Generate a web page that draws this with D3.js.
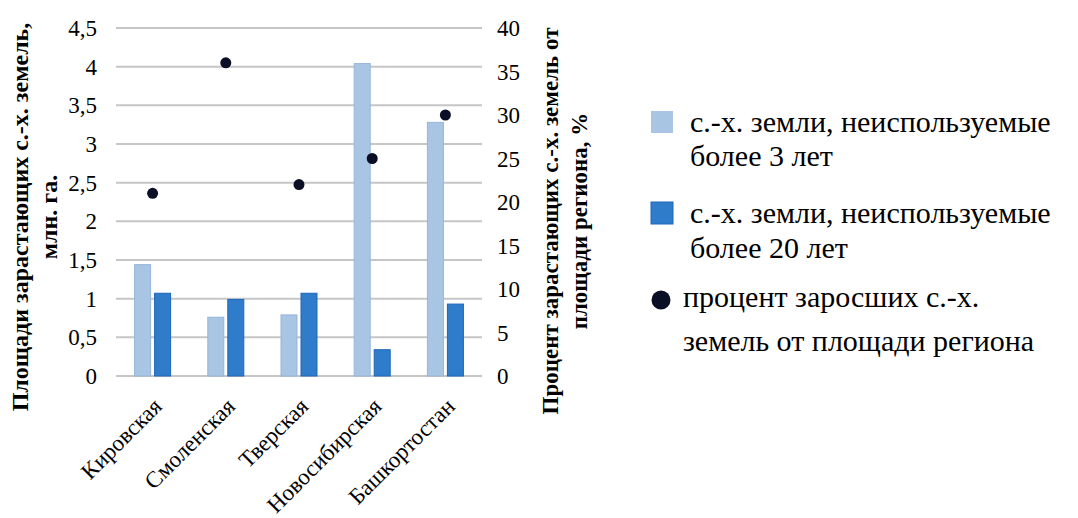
<!DOCTYPE html>
<html>
<head>
<meta charset="utf-8">
<script src="https://cdn.jsdelivr.net/npm/d3@7"></script>
<style>
    body { margin: 0; background: #fff; }
</style>
</head>
<body>
<svg id="chart" width="1078" height="518"></svg>
<script>
    // data
    const regions = ["Кировская", "Смоленская", "Тверская", "Новосибирская", "Башкортостан"];
    const unused3 = [1.44, 0.76, 0.79, 4.04, 3.28];
    const unused20 = [1.07, 0.99, 1.07, 0.34, 0.93];
    const percent = [21, 36, 22, 25, 30];
    const leftTicks = [0, 0.5, 1, 1.5, 2, 2.5, 3, 3.5, 4, 4.5];
    const rightTicks = [0, 5, 10, 15, 20, 25, 30, 35, 40];
    const seriesNames = ["с.-х. земли, неиспользуемые|более 3 лет",
        "с.-х. земли, неиспользуемые|более 20 лет",
        "процент заросших с.-х.|земель от площади региона"];

    const FONT = "'Liberation Serif', 'Times New Roman', serif";

    const svg = d3.select("#chart");
    const plot = {left: 116, right: 482, top: 28, bottom: 376};

    const x = d3.scaleBand().domain(regions).range([plot.left, plot.right]).paddingInner(0).paddingOuter(0);
    const yL = d3.scaleLinear().domain([0, 4.5]).range([plot.bottom, plot.top]);
    const yR = d3.scaleLinear().domain([0, 40]).range([plot.bottom, plot.top]);

    const barW = 16, gap = 4;

    // gridlines
    svg.append("g").selectAll("line")
        .data(leftTicks)
        .join("line")
        .attr("x1", plot.left).attr("x2", plot.right)
        .attr("y1", d => yL(d)).attr("y2", d => yL(d))
        .attr("stroke", "#c6c6c6").attr("stroke-width", 2);

    // left axis labels
    svg.append("g").selectAll("text")
        .data(leftTicks)
        .join("text")
        .attr("x", 97).attr("y", d => yL(d))
        .attr("dy", "0.35em")
        .attr("text-anchor", "end")
        .style("font-family", FONT)
        .style("font-size", "23px")
        .text(d => String(d).replace(".", ","));

    // right axis labels
    svg.append("g").selectAll("text")
        .data(rightTicks)
        .join("text")
        .attr("x", 497).attr("y", d => yR(d))
        .attr("dy", "0.35em")
        .style("font-family", FONT)
        .style("font-size", "23px")
        .text(d => d);

    // bars
    svg.append("g").selectAll("rect")
        .data(regions)
        .join("rect")
        .attr("x", d => x(d) + x.bandwidth() / 2 - barW - gap / 2)
        .attr("y", (d, i) => yL(unused3[i]))
        .attr("width", barW)
        .attr("height", (d, i) => yL(0) - yL(unused3[i]))
        .attr("fill", "#a8c5e3").attr("stroke", "#95b6da").attr("stroke-width", 1);

    svg.append("g").selectAll("rect")
        .data(regions)
        .join("rect")
        .attr("x", d => x(d) + x.bandwidth() / 2 + gap / 2)
        .attr("y", (d, i) => yL(unused20[i]))
        .attr("width", barW)
        .attr("height", (d, i) => yL(0) - yL(unused20[i]))
        .attr("fill", "#2f7ccb").attr("stroke", "#1f66b8").attr("stroke-width", 1);

    // dots
    svg.append("g").selectAll("circle")
        .data(regions)
        .join("circle")
        .attr("cx", d => x(d) + x.bandwidth() / 2)
        .attr("cy", (d, i) => yR(percent[i]))
        .attr("r", 5.5)
        .attr("fill", "#0b0f26");

    // category labels
    svg.append("g").selectAll("text")
        .data(regions)
        .join("text")
        .attr("transform", d => `translate(${x(d) + x.bandwidth() / 2 + 5},${402}) rotate(-45)`)
        .attr("text-anchor", "end")
        .attr("dy", "0.35em")
        .style("font-family", FONT)
        .style("font-size", "23px")
        .text(d => d);

    // axis titles
    const leftTitle = svg.append("text")
        .attr("transform", "translate(28,217) rotate(-90)")
        .attr("text-anchor", "middle")
        .style("font-family", FONT)
        .style("font-size", "24px").style("font-weight", "bold");
    leftTitle.append("tspan").attr("x", 0).attr("dy", 0).text("Площади зарастающих с.-х. земель,");
    leftTitle.append("tspan").attr("x", 0).attr("dy", 29).text("млн. га.");

    const rightTitle = svg.append("text")
        .attr("transform", "translate(558,221) rotate(-90)")
        .attr("text-anchor", "middle")
        .style("font-family", FONT)
        .style("font-size", "23px").style("font-weight", "bold");
    rightTitle.append("tspan").attr("x", 0).attr("dy", 0).text("Процент зарастающих с.-х. земель от");
    rightTitle.append("tspan").attr("x", 0).attr("dy", 29).text("площади региона, %");

    // legend
    const legend = svg.append("g");
    const legendBase = [[132, 166], [223, 258], [307, 351]];
    const legendText = legend.selectAll("text")
        .data(seriesNames)
        .join("text")
        .style("font-family", FONT)
        .style("font-size", "30px");
    legendText.each(function (d, i) {
        const parts = d.split("|");
        const t = d3.select(this);
        const lx = i < 2 ? 690 : 683;
        t.append("tspan").attr("x", lx).attr("y", legendBase[i][0]).text(parts[0]);
        t.append("tspan").attr("x", lx).attr("y", legendBase[i][1]).text(parts[1]);
    });

    legend.append("rect").attr("x", 651).attr("y", 111).attr("width", 22).attr("height", 22)
        .attr("fill", "#a8c5e3");
    legend.append("rect").attr("x", 651).attr("y", 202).attr("width", 22).attr("height", 22)
        .attr("fill", "#2f7ccb").attr("stroke", "#1f66b8");
    legend.append("circle").attr("cx", 661).attr("cy", 300).attr("r", 9.5).attr("fill", "#0b0f26");
</script>
</body>
</html>
